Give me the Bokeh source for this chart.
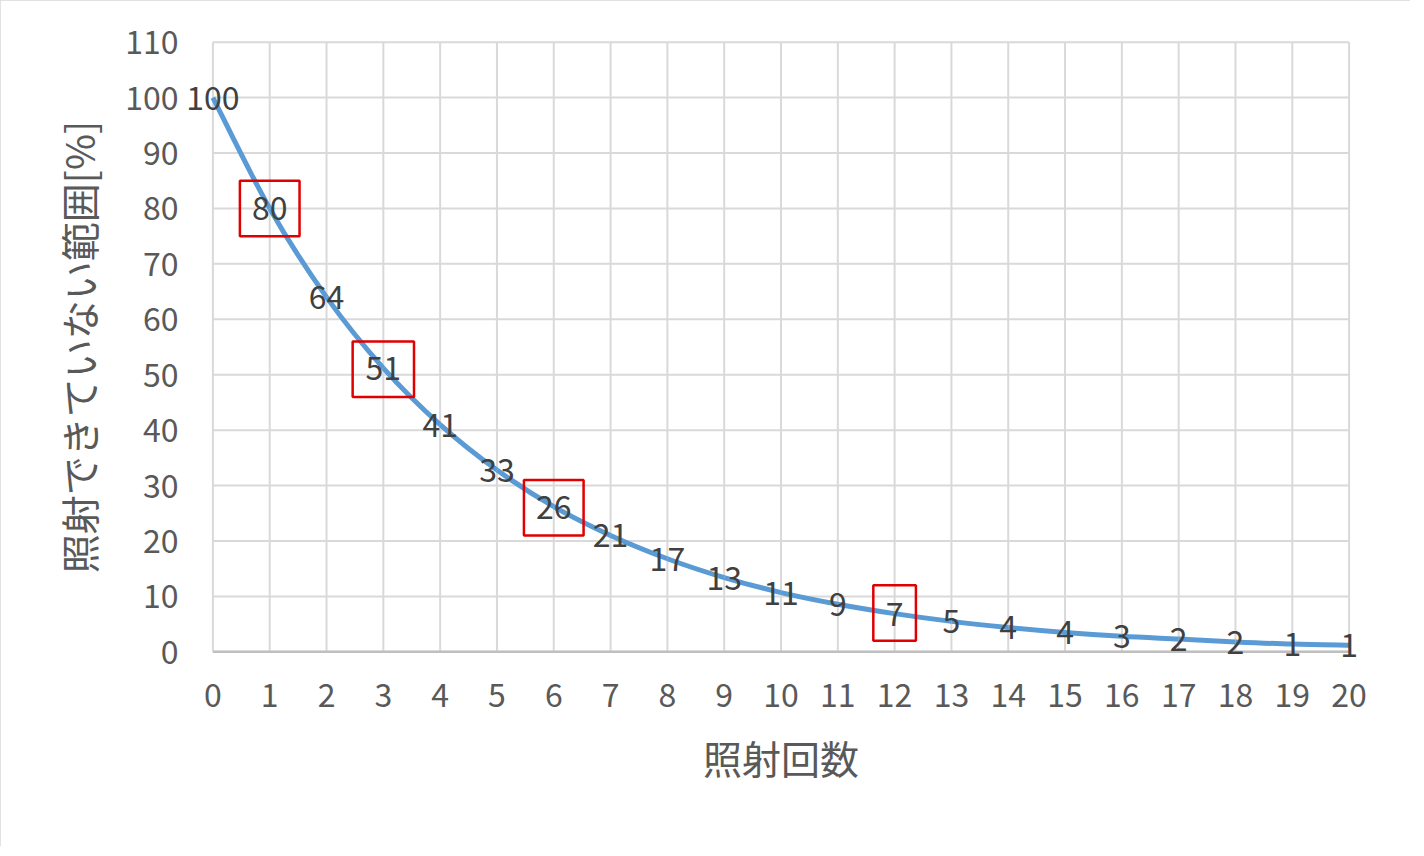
from bokeh.plotting import figure
from bokeh.embed import file_html
from bokeh.resources import INLINE
from bokeh.models import FixedTicker, ColumnDataSource
from bokeh.core.properties import value

# ---- data ----
shots = list(range(0, 21))
uncovered = [100, 80, 64, 51.2, 41.0, 32.8, 26.2, 21.0, 16.8, 13.4, 10.7,
             8.6, 6.9, 5.5, 4.4, 3.5, 2.8, 2.3, 1.8, 1.4, 1.2]
labels = ["100", "80", "64", "51", "41", "33", "26", "21", "17", "13", "11",
          "9", "7", "5", "4", "4", "3", "2", "2", "1", "1"]
x_ticks = list(range(0, 21))
y_ticks = list(range(0, 111, 10))
# highlighted points (red boxes)
box_x = [1, 3, 6, 12]
box_y = [80, 51, 26, 7]
box_w = [1.05, 1.08, 1.05, 0.75]
box_h = [10, 10, 10, 10]

x_title = "照射回数"
y_title = "照射できていない範囲[%]"

JP = "Noto Sans CJK JP"
X_LO, X_HI = x_ticks[0], x_ticks[-1]
Y_LO, Y_HI = y_ticks[0], y_ticks[-1]

# ranges padded symmetrically so data labels at the edges are not clipped
p = figure(width=1410, height=846, output_backend="svg", toolbar_location=None,
           x_range=(X_LO - 0.5, X_HI + 0.5), y_range=(Y_LO - 3, Y_HI + 3),
           min_border_left=184, min_border_right=33, min_border_top=25,
           min_border_bottom=178)
p.styles = {"outline": "2px solid #d9d9d9", "outline-offset": "-2px"}
p.outline_line_color = None
p.background_fill_color = "white"
p.border_fill_color = "white"
p.xgrid.visible = False
p.ygrid.visible = False

# gridlines drawn from the tick arrays
p.segment(x0=x_ticks, y0=[Y_LO] * len(x_ticks), x1=x_ticks, y1=[Y_HI] * len(x_ticks),
          line_color="#d9d9d9", line_width=2)
p.segment(x0=[X_LO] * len(y_ticks), y0=y_ticks, x1=[X_HI] * len(y_ticks), y1=y_ticks,
          line_color="#d9d9d9", line_width=2)
# horizontal axis line at y = 0
p.segment(x0=[X_LO], y0=[Y_LO], x1=[X_HI], y1=[Y_LO], line_color="#bfbfbf",
          line_width=2.5)

# axes (lines hidden; labels offset to sit next to the data edges)
p.xaxis.ticker = FixedTicker(ticks=x_ticks)
p.yaxis.ticker = FixedTicker(ticks=y_ticks)
for ax in (p.xaxis, p.yaxis):
    ax.axis_line_color = None
    ax.major_tick_line_color = None
    ax.minor_tick_line_color = None
    ax.major_label_text_font = JP
    ax.major_label_text_font_size = "32px"
    ax.major_label_text_color = "#595959"
    ax.axis_label_text_font = JP
    ax.axis_label_text_font_size = "39px"
    ax.axis_label_text_color = "#595959"
    ax.axis_label_text_font_style = "normal"
p.xaxis.major_label_standoff = 8
p.yaxis.major_label_standoff = 0
p.xaxis.axis_label = x_title
p.yaxis.axis_label = y_title
p.xaxis.axis_label_standoff = 19
p.yaxis.axis_label_standoff = 16

# smoothed line (Catmull-Rom style bezier through the data points)
n = len(shots)
x0, y0, x1, y1, cx0, cy0, cx1, cy1 = ([] for _ in range(8))
for i in range(n - 1):
    xa, ya = shots[i], uncovered[i]
    xb, yb = shots[i + 1], uncovered[i + 1]
    xp, yp = (shots[i - 1], uncovered[i - 1]) if i > 0 else (xa, ya)
    xn, yn = (shots[i + 2], uncovered[i + 2]) if i + 2 < n else (xb, yb)
    x0.append(xa); y0.append(ya); x1.append(xb); y1.append(yb)
    cx0.append(xa + (xb - xp) / 6); cy0.append(ya + (yb - yp) / 6)
    cx1.append(xb - (xn - xa) / 6); cy1.append(yb - (yn - ya) / 6)
p.bezier(x0=x0, y0=y0, x1=x1, y1=y1, cx0=cx0, cy0=cy0, cx1=cx1, cy1=cy1,
         line_color="#5b9bd5", line_width=5)

# red boxes
p.rect(x=box_x, y=box_y, width=box_w, height=box_h, fill_color=None,
       line_color="#e00000", line_width=2.5)

# data labels
src = ColumnDataSource(dict(x=shots, y=uncovered, t=labels))
p.text(x="x", y="y", text="t", source=src, text_align="center",
       text_baseline="middle", text_font=value(JP), text_font_size="32px",
       text_color="#404040")

open("out.html", "w").write(file_html(p, INLINE))
